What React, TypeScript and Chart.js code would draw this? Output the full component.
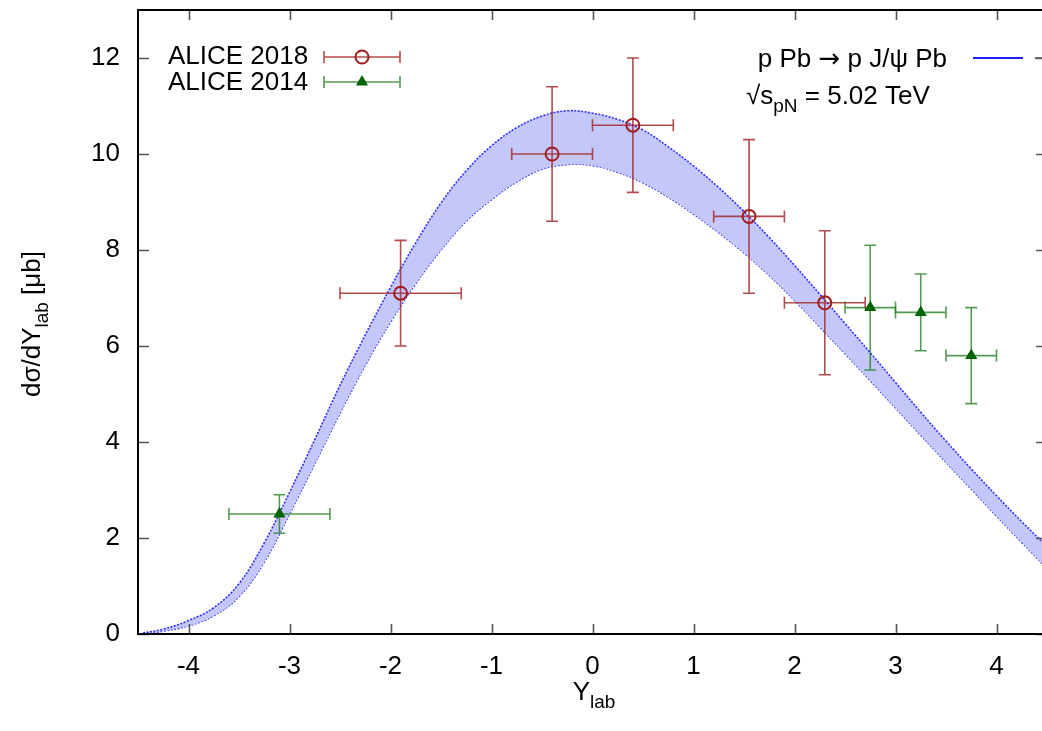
import { useEffect, useRef } from "react";
import { Chart, registerables } from "chart.js";

Chart.register(...registerables);

const FONT = "'Liberation Sans', Arial, Helvetica, sans-serif";
const ARROW_FONT = "'DejaVu Sans', sans-serif";
const CANVAS_W = 1060;
const CANVAS_H = 731;

// axis ticks
const xTickValues = [-4, -3, -2, -1, 0, 1, 2, 3, 4];
const yTickValues = [0, 2, 4, 6, 8, 10, 12];

// ALICE 2018 measurements
const alice18Rap = [-1.9, -0.4, 0.4, 1.55, 2.3];
const alice18Val = [7.1, 10.0, 10.6, 8.7, 6.9];
const alice18Low = [6.0, 8.6, 9.2, 7.1, 5.4];
const alice18High = [8.2, 11.4, 12.0, 10.3, 8.4];
const alice18BinLow = [-2.5, -0.8, 0.0, 1.2, 1.9];
const alice18BinHigh = [-1.3, 0.0, 0.8, 1.9, 2.7];

// ALICE 2014 measurements
const alice14Rap = [-3.1, 2.75, 3.25, 3.75];
const alice14Val = [2.5, 6.8, 6.7, 5.8];
const alice14Low = [2.1, 5.5, 5.9, 4.8];
const alice14High = [2.9, 8.1, 7.5, 6.8];
const alice14BinLow = [-3.6, 2.5, 3.0, 3.5];
const alice14BinHigh = [-2.6, 3.0, 3.5, 4.0];

// theory band: p Pb -> p J/psi Pb
const bandRap = [
  -4.45, -4.25, -4.0, -3.75, -3.5, -3.25, -3.0, -2.75, -2.5, -2.25, -2.0, -1.75,
  -1.5, -1.25, -1.0, -0.75, -0.5, -0.25, 0.0, 0.25, 0.5, 0.75, 1.0, 1.25, 1.5,
  1.75, 2.0, 2.25, 2.5, 2.75, 3.0, 3.25, 3.5, 3.75, 4.0, 4.25, 4.5,
];
const bandUpper = [
  0.02, 0.1, 0.28, 0.55, 1.05, 1.9, 2.95, 4.05, 5.18, 6.23, 7.22, 8.15,
  8.98, 9.65, 10.17, 10.55, 10.79, 10.9, 10.85, 10.72, 10.5, 10.15, 9.75, 9.3, 8.8,
  8.26, 7.68, 7.08, 6.47, 5.86, 5.24, 4.62, 4.02, 3.44, 2.88, 2.34, 1.82,
];
const bandLower = [
  0.0, 0.06, 0.17, 0.38, 0.78, 1.5, 2.5, 3.55, 4.6, 5.6, 6.5, 7.3,
  8.0, 8.6, 9.05, 9.42, 9.68, 9.78, 9.76, 9.62, 9.4, 9.1, 8.75, 8.36, 7.94,
  7.47, 6.95, 6.4, 5.84, 5.28, 4.71, 4.14, 3.58, 3.02, 2.46, 1.91, 1.37,
];

const RED_BAR = "rgba(165, 45, 45, 0.85)";
const RED_MARK = "#a01c1c";
const GREEN_BAR = "rgba(40, 130, 40, 0.8)";
const GREEN_MARK = "#006400";
const BAND_FILL = "#c4c7fa";
const BAND_EDGE = "#2d2dff";

type Series = {
  x: number[];
  y: number[];
  lo: number[];
  hi: number[];
  xlo: number[];
  xhi: number[];
  color: string;
};

const series18: Series = {
  x: alice18Rap, y: alice18Val, lo: alice18Low, hi: alice18High,
  xlo: alice18BinLow, xhi: alice18BinHigh, color: RED_BAR,
};
const series14: Series = {
  x: alice14Rap, y: alice14Val, lo: alice14Low, hi: alice14High,
  xlo: alice14BinLow, xhi: alice14BinHigh, color: GREEN_BAR,
};

const CAP = 6;

function drawErrorBars(chart: any, s: Series) {
  const ctx = chart.ctx as CanvasRenderingContext2D;
  const xs = chart.scales.x;
  const ys = chart.scales.y;
  ctx.save();
  ctx.strokeStyle = s.color;
  ctx.lineWidth = 1.6;
  for (let i = 0; i < s.x.length; i++) {
    const px = xs.getPixelForValue(s.x[i]);
    const py = ys.getPixelForValue(s.y[i]);
    const x0 = xs.getPixelForValue(s.xlo[i]);
    const x1 = xs.getPixelForValue(s.xhi[i]);
    const y0 = ys.getPixelForValue(s.lo[i]);
    const y1 = ys.getPixelForValue(s.hi[i]);
    ctx.beginPath();
    ctx.moveTo(x0, py); ctx.lineTo(x1, py);
    ctx.moveTo(x0, py - CAP); ctx.lineTo(x0, py + CAP);
    ctx.moveTo(x1, py - CAP); ctx.lineTo(x1, py + CAP);
    ctx.moveTo(px, y0); ctx.lineTo(px, y1);
    ctx.moveTo(px - CAP, y0); ctx.lineTo(px + CAP, y0);
    ctx.moveTo(px - CAP, y1); ctx.lineTo(px + CAP, y1);
    ctx.stroke();
  }
  ctx.restore();
}

function drawTriangle(ctx: CanvasRenderingContext2D, x: number, y: number, r: number) {
  ctx.beginPath();
  let rad = 0;
  ctx.moveTo(x + Math.sin(rad) * r, y - Math.cos(rad) * r);
  rad += (2 * Math.PI) / 3;
  ctx.lineTo(x + Math.sin(rad) * r, y - Math.cos(rad) * r);
  rad += (2 * Math.PI) / 3;
  ctx.lineTo(x + Math.sin(rad) * r, y - Math.cos(rad) * r);
  ctx.closePath();
  ctx.fill();
}

function legendSample(ctx: CanvasRenderingContext2D, x0: number, x1: number, y: number, color: string) {
  ctx.save();
  ctx.strokeStyle = color;
  ctx.lineWidth = 1.6;
  ctx.beginPath();
  ctx.moveTo(x0, y); ctx.lineTo(x1, y);
  ctx.moveTo(x0, y - CAP); ctx.lineTo(x0, y + CAP);
  ctx.moveTo(x1, y - CAP); ctx.lineTo(x1, y + CAP);
  ctx.stroke();
  ctx.restore();
}

type Piece = { t: string; sub?: boolean; family?: string };

// draws text pieces in sequence; pieces flagged sub are smaller and lowered
function drawRich(
  ctx: CanvasRenderingContext2D,
  pieces: Piece[],
  x: number,
  y: number,
  size: number,
  subSize: number,
  subDrop: number,
  align: "left" | "center" | "right",
) {
  ctx.save();
  ctx.textBaseline = "alphabetic";
  ctx.textAlign = "left";
  const fontOf = (p: Piece) => `${p.sub ? subSize : size}px ${p.family ?? FONT}`;
  const widths = pieces.map((p) => {
    ctx.font = fontOf(p);
    return ctx.measureText(p.t).width;
  });
  const total = widths.reduce((a, b) => a + b, 0);
  let cx = align === "left" ? x : align === "center" ? x - total / 2 : x - total;
  pieces.forEach((p, i) => {
    ctx.font = fontOf(p);
    ctx.fillText(p.t, cx, p.sub ? y + subDrop : y);
    cx += widths[i];
  });
  ctx.restore();
}

const decorPlugin = {
  id: "decor",
  beforeDatasetDraw(chart: any, args: any) {
    if (args.index === 0) drawErrorBars(chart, series18);
    if (args.index === 1) drawErrorBars(chart, series14);
  },
  afterDraw(chart: any) {
    const ctx = chart.ctx as CanvasRenderingContext2D;
    const { left, right, top, bottom } = chart.chartArea;
    const xs = chart.scales.x;
    const ys = chart.scales.y;

    // inward tick marks on all four sides
    ctx.save();
    ctx.strokeStyle = "#555";
    ctx.lineWidth = 1.6;
    ctx.beginPath();
    xTickValues.forEach((v) => {
      const px = Math.round(xs.getPixelForValue(v)) + 0.5;
      ctx.moveTo(px, bottom); ctx.lineTo(px, bottom - 10);
      ctx.moveTo(px, top); ctx.lineTo(px, top + 10);
    });
    yTickValues.forEach((v) => {
      const py = Math.round(ys.getPixelForValue(v)) + 0.5;
      ctx.moveTo(left, py); ctx.lineTo(left + 11, py);
      ctx.moveTo(right, py); ctx.lineTo(right - 11, py);
    });
    ctx.stroke();

    // frame
    ctx.strokeStyle = "#000";
    ctx.lineWidth = 2;
    ctx.strokeRect(left, top, right - left, bottom - top);
    ctx.restore();

    ctx.fillStyle = "#000";

    // axis titles
    drawRich(ctx, [{ t: "Y" }, { t: "lab", sub: true }], 594, 700, 26, 19, 8, "center");
    ctx.save();
    ctx.translate(40, 324);
    ctx.rotate(-Math.PI / 2);
    drawRich(
      ctx,
      [{ t: "d\u03c3/dY" }, { t: "lab", sub: true }, { t: " [\u03bcb]" }],
      0, 0, 26, 19, 8, "center",
    );
    ctx.restore();

    // data key, upper left
    ctx.save();
    ctx.font = `26px ${FONT}`;
    ctx.textBaseline = "middle";
    ctx.textAlign = "left";
    ctx.fillStyle = "#000";
    ctx.fillText("ALICE 2018", 168, 57);
    ctx.fillText("ALICE 2014", 168, 83);
    ctx.restore();

    legendSample(ctx, 324, 400, 57, RED_BAR);
    ctx.save();
    ctx.strokeStyle = RED_MARK;
    ctx.lineWidth = 2;
    ctx.beginPath();
    ctx.arc(362, 57, 6.5, 0, Math.PI * 2);
    ctx.stroke();
    ctx.restore();

    legendSample(ctx, 324, 400, 82, GREEN_BAR);
    ctx.save();
    ctx.fillStyle = GREEN_MARK;
    drawTriangle(ctx, 362, 82, 7);
    ctx.restore();

    // theory key, upper right
    ctx.save();
    ctx.fillStyle = "#000";
    drawRich(
      ctx,
      [
        { t: "p Pb " },
        { t: "\u2192", family: ARROW_FONT },
        { t: " p J/\u03c8 Pb" },
      ],
      947, 67, 26, 19, 8, "right",
    );
    drawRich(
      ctx,
      [{ t: "\u221as" }, { t: "pN", sub: true }, { t: " = 5.02 TeV" }],
      746, 104, 26, 19, 8, "left",
    );
    ctx.strokeStyle = "#2020ff";
    ctx.lineWidth = 2;
    ctx.beginPath();
    ctx.moveTo(973, 58); ctx.lineTo(1023, 58);
    ctx.stroke();
    ctx.strokeStyle = "#666";
    ctx.beginPath();
    ctx.moveTo(1035, 58); ctx.lineTo(1045, 58);
    ctx.stroke();
    ctx.restore();
  },
};

export default function App() {
  const canvasRef = useRef<HTMLCanvasElement>(null);

  useEffect(() => {
    const prevOverflow = document.body.style.overflow;
    document.body.style.overflow = "hidden";
    const canvas = canvasRef.current;
    if (!canvas) return;

    const tickFont = { family: FONT, size: 26 };

    const chart = new Chart(canvas, {
      type: "scatter",
      data: {
        datasets: [
          {
            label: "ALICE 2018",
            data: alice18Rap.map((x, i) => ({ x, y: alice18Val[i] })),
            pointStyle: "circle",
            pointRadius: 6.5,
            pointBorderWidth: 2,
            pointBorderColor: RED_MARK,
            pointBackgroundColor: "rgba(0,0,0,0)",
            showLine: false,
          },
          {
            label: "ALICE 2014",
            data: alice14Rap.map((x, i) => ({ x, y: alice14Val[i] })),
            pointStyle: "triangle",
            pointRadius: 7,
            pointBorderWidth: 0,
            pointBorderColor: GREEN_MARK,
            pointBackgroundColor: GREEN_MARK,
            showLine: false,
          },
          {
            type: "line",
            label: "upper",
            data: bandRap.map((x, i) => ({ x, y: bandUpper[i] })),
            borderColor: BAND_EDGE,
            borderWidth: 1.6,
            borderDash: [2, 1.5],
            backgroundColor: BAND_FILL,
            fill: "+1",
            pointRadius: 0,
            tension: 0.4,
          },
          {
            type: "line",
            label: "lower",
            data: bandRap.map((x, i) => ({ x, y: bandLower[i] })),
            borderColor: BAND_EDGE,
            borderWidth: 1.6,
            borderDash: [2, 1.5],
            fill: false,
            pointRadius: 0,
            tension: 0.4,
          },
        ] as any,
      },
      options: {
        responsive: false,
        devicePixelRatio: 1,
        animation: false,
        layout: { padding: { left: 0, top: 10, right: CANVAS_W - 1047, bottom: 0 } },
        plugins: {
          legend: { display: false },
          tooltip: { enabled: false },
        },
        scales: {
          x: {
            type: "linear",
            min: -4.5,
            max: 4.5,
            afterBuildTicks: (s: any) => {
              s.ticks = xTickValues.map((v) => ({ value: v }));
            },
            afterFit: (s: any) => {
              s.height = CANVAS_H - 634;
              s.paddingLeft = 0;
              s.paddingRight = 0;
            },
            ticks: {
              font: tickFont,
              color: "#000",
              padding: 17,
              maxRotation: 0,
              autoSkip: false,
              callback: (v: any) => String(v),
            },
            grid: { display: false, drawTicks: false },
            border: { display: false },
          },
          y: {
            type: "linear",
            min: 0,
            max: 13,
            afterBuildTicks: (s: any) => {
              s.ticks = yTickValues.map((v) => ({ value: v }));
            },
            afterFit: (s: any) => {
              s.width = 138;
              s.paddingTop = 0;
              s.paddingBottom = 0;
            },
            ticks: {
              font: tickFont,
              color: "#000",
              padding: 18,
              autoSkip: false,
              callback: (v: any) => String(v),
            },
            grid: { display: false, drawTicks: false },
            border: { display: false },
          },
        },
      },
      plugins: [decorPlugin],
    });

    return () => {
      chart.destroy();
      document.body.style.overflow = prevOverflow;
    };
  }, []);

  return (
    <div
      style={{
        position: "fixed",
        left: 0,
        top: 0,
        width: 1042,
        height: CANVAS_H,
        overflow: "hidden",
        background: "#fff",
      }}
    >
      <canvas
        ref={canvasRef}
        width={CANVAS_W}
        height={CANVAS_H}
        style={{ display: "block", width: CANVAS_W, height: CANVAS_H }}
      />
    </div>
  );
}
